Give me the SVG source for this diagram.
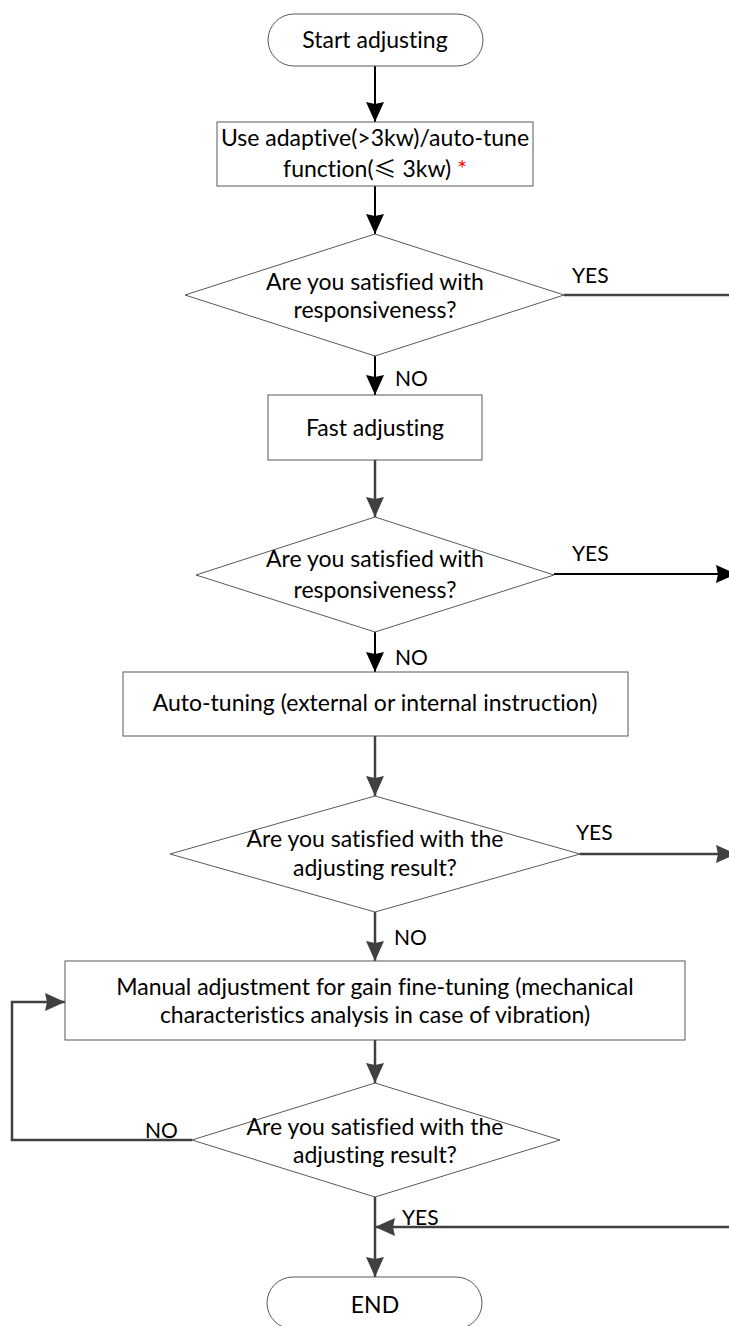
<svg xmlns="http://www.w3.org/2000/svg" width="729" height="1326" viewBox="0 0 729 1326">
<defs>
<marker id="ab" viewBox="0 0 20 18" refX="20" refY="9" markerWidth="20" markerHeight="18" markerUnits="userSpaceOnUse" orient="auto"><path d="M0,0 L20,9 L0,18 L2,9 z" fill="#000"/></marker>
<marker id="ag" viewBox="0 0 20 18" refX="20" refY="9" markerWidth="20" markerHeight="18" markerUnits="userSpaceOnUse" orient="auto"><path d="M0,0 L20,9 L0,18 L2,9 z" fill="#404040"/></marker>
</defs>
<style>
.s{fill:#fff;stroke:#595959;stroke-width:1}
.t{font-family:Lato,"Liberation Sans","Noto Sans CJK SC",sans-serif;font-size:23px;fill:#000;text-anchor:middle;font-variant-ligatures:none;font-feature-settings:"liga" 0,"clig" 0}
.l{font-family:Lato,"Liberation Sans",sans-serif;font-size:21px;fill:#000}
.cjk{font-family:"Noto Sans CJK SC",sans-serif}
.cb{fill:none;stroke:#000;stroke-width:2}
.cg{fill:none;stroke:#404040;stroke-width:2.5}
</style>
<rect width="729" height="1326" fill="#fff"/>
<g id="connectors">
<path class="cb" d="M375,66 L375,122" marker-end="url(#ab)"/>
<path class="cb" d="M375,186 L375,234" marker-end="url(#ab)"/>
<path class="cg" d="M564,295 L729,295"/>
<path class="cb" d="M375,356 L375,395" marker-end="url(#ab)"/>
<path class="cg" d="M375,460 L375,517" marker-end="url(#ag)"/>
<path class="cb" d="M554,574 L736,574" marker-end="url(#ab)"/>
<path class="cb" d="M375,632 L375,672" marker-end="url(#ab)"/>
<path class="cg" d="M375,736 L375,796" marker-end="url(#ag)"/>
<path class="cg" d="M580,854 L736,854" marker-end="url(#ag)"/>
<path class="cg" d="M375,912 L375,961" marker-end="url(#ag)"/>
<path class="cg" d="M375,1040 L375,1083" marker-end="url(#ag)"/>
<path class="cg" d="M192,1140 L12,1140 L12,1002 L65,1002" marker-end="url(#ag)"/>
<path class="cg" d="M375,1197 L375,1277" marker-end="url(#ag)"/>
<path class="cg" d="M729,1227 L375,1227" marker-end="url(#ag)"/>
<text class="l" x="572" y="283">YES</text>
<text class="l" x="395" y="386">NO</text>
<text class="l" x="572" y="561">YES</text>
<text class="l" x="395" y="665">NO</text>
<text class="l" x="576" y="840">YES</text>
<text class="l" x="394" y="945">NO</text>
<text class="l" x="145" y="1138">NO</text>
<text class="l" x="402" y="1225">YES</text>
</g>
<g id="start">
<rect class="s" x="268" y="14" width="215" height="52" rx="26"/>
<text class="t" x="375" y="48">Start adjusting</text>
</g>
<g id="adaptive">
<rect class="s" x="217" y="122" width="316" height="64"/>
<text class="t" x="375" y="146">Use adaptive(&gt;3kw)/auto-tune</text>
<text class="t" x="375" y="177">function(<tspan class="cjk">≤</tspan> 3kw) <tspan fill="#ff0000">*</tspan></text>
</g>
<g id="decision1">
<polygon class="s" points="375,234 564,295 375,356 185,295"/>
<text class="t" x="375" y="290">Are you satisfied with</text>
<text class="t" x="375" y="318">responsiveness?</text>
</g>
<g id="fast">
<rect class="s" x="268" y="395" width="214" height="65"/>
<text class="t" x="375" y="436">Fast adjusting</text>
</g>
<g id="decision2">
<polygon class="s" points="375,517 554,575 375,632 196,575"/>
<text class="t" x="375" y="567">Are you satisfied with</text>
<text class="t" x="375" y="598">responsiveness?</text>
</g>
<g id="autotuning">
<rect class="s" x="123" y="672" width="505" height="64"/>
<text class="t" x="375" y="711">Auto-tuning (external or internal instruction)</text>
</g>
<g id="decision3">
<polygon class="s" points="375,796 580,854 375,912 170,854"/>
<text class="t" x="375" y="847">Are you satisfied with the</text>
<text class="t" x="375" y="876">adjusting result?</text>
</g>
<g id="manual">
<rect class="s" x="65" y="961" width="620" height="79"/>
<text class="t" x="375" y="995">Manual adjustment for gain fine-tuning (mechanical</text>
<text class="t" x="375" y="1023">characteristics analysis in case of vibration)</text>
</g>
<g id="decision4">
<polygon class="s" points="375,1083 560,1140 375,1197 192,1140"/>
<text class="t" x="375" y="1135">Are you satisfied with the</text>
<text class="t" x="375" y="1163">adjusting result?</text>
</g>
<g id="end">
<rect class="s" x="267" y="1277" width="215" height="52" rx="26"/>
<text class="t" x="375" y="1313">END</text>
</g>
</svg>
